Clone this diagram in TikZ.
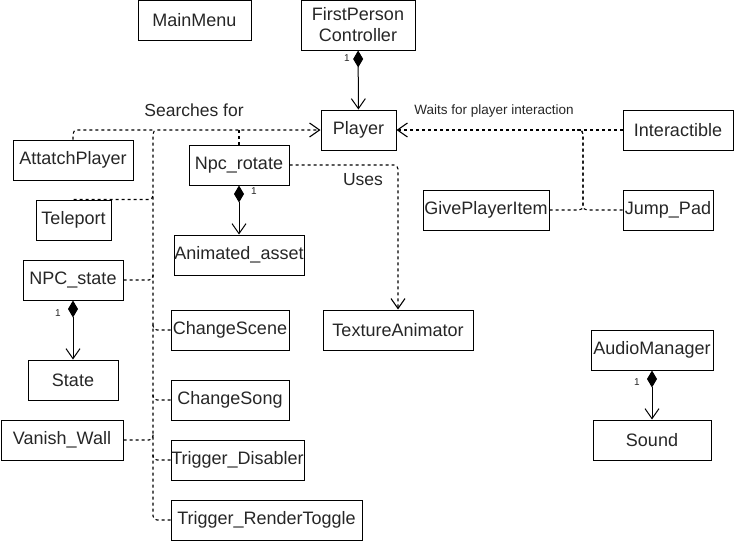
\documentclass[tikz,border=0pt]{standalone}
\usepackage{fontspec}
\setmainfont{Liberation Sans}
\usetikzlibrary{arrows.meta,calc}

\begin{document}
\begin{tikzpicture}[x=1pt,y=-1pt,
    cls/.style={draw,line width=1pt,minimum height=40pt,inner sep=0pt,text=black!85,font=\fontsize{18}{21}\selectfont},
    depline/.style={dash pattern=on 3pt off 3pt,line width=1.1pt,rounded corners=4pt},
    dep/.style={depline,-{Straight Barb[length=10pt,width=14pt]}},
    comp/.style={line width=1pt,{Diamond[length=17pt,width=10pt]}-{Straight Barb[length=10pt,width=14pt]}},
    mult/.style={font=\fontsize{10}{12}\selectfont,text=black!85},
    lbl/.style={text=black!85,font=\fontsize{17.5}{21}\selectfont}]
    \useasboundingbox (0,0) rectangle (734,541);

    %classes
    \node[cls,minimum width=113pt] (mainmenu) at (194.5,20) {MainMenu};
    \node[cls,minimum width=114pt,minimum height=50pt,align=center] (fpc) at (358,25) {FirstPerson\\Controller};
    \node[cls,minimum width=75pt] (player) at (358.5,130) {Player};
    \node[cls,minimum width=120pt] (attatch) at (73,160) {AttatchPlayer};
    \node[cls,minimum width=75pt] (teleport) at (73.5,220) {Teleport};
    \node[cls,minimum width=100pt] (npcrotate) at (239,165) {Npc\_rotate};
    \node[cls,minimum width=130pt] (animasset) at (239,255) {Animated\_asset};
    \node[cls,minimum width=100pt] (npcstate) at (73,280) {NPC\_state};
    \node[cls,minimum width=90pt] (state) at (73,380) {State};
    \node[cls,minimum width=122pt] (vanish) at (62,440) {Vanish\_Wall};
    \node[cls,minimum width=118pt] (changescene) at (230,330) {ChangeScene};
    \node[cls,minimum width=118pt] (changesong) at (230,400) {ChangeSong};
    \node[cls,minimum width=133pt] (trigdisable) at (237.5,460) {Trigger\_Disabler};
    \node[cls,minimum width=191pt] (trigrender) at (266.5,520) {Trigger\_RenderToggle};
    \node[cls,minimum width=150pt] (texanim) at (398,330) {TextureAnimator};
    \node[cls,minimum width=110pt] (interact) at (678,130) {Interactible};
    \node[cls,minimum width=126pt] (giveitem) at (486,210) {GivePlayerItem};
    \node[cls,minimum width=90pt] (jumppad) at (668,210) {Jump\_Pad};
    \node[cls,minimum width=122pt] (audio) at (652,350) {AudioManager};
    \node[cls,minimum width=118pt] (sound) at (652,440) {Sound};

    %compositions
    \draw[comp] (fpc) -- (player);
    \draw[comp] (npcrotate) -- (animasset);
    \draw[comp] (npcstate) -- (state);
    \draw[comp] (audio) -- (sound);
    \node[mult] at (347,58) {1};
    \node[mult] at (254,191) {1};
    \node[mult] at (58,313) {1};
    \node[mult] at (637,382) {1};

    %searches for
    \coordinate (bus) at (153,130);
    \draw[dep] (trigrender) -| (bus) -- (player.west); % the bus itself
    \draw[depline] (attatch) |- (bus);
    \draw[depline] (npcrotate) -- (npcrotate |- bus);
    \draw[depline] (teleport.north) -| ($(bus |- teleport.north)+(0,-6)$);
    \foreach \n in {npcstate, vanish, changescene, changesong, trigdisable} {
        \draw[depline] (\n) -| ($(bus |- \n)+(0,-6)$); % branches join the bus
    }
    \node[lbl] at (194,110) {Searches for};

    %uses
    \draw[dep] (npcrotate) -| (texanim);
    \node[lbl] at (363,180) {Uses};

    %waits for player interaction
    \coordinate (hub) at (583,130);
    \draw[dep] (interact) -- (player);
    \foreach \n in {giveitem, jumppad} {
        \draw[depline] (\n) -| (hub) -- ++(-6,0);
    }
    \node[text=black!85,font=\fontsize{13.5}{16}\selectfont] at (494,111) {Waits for player interaction};
\end{tikzpicture}
\end{document}
